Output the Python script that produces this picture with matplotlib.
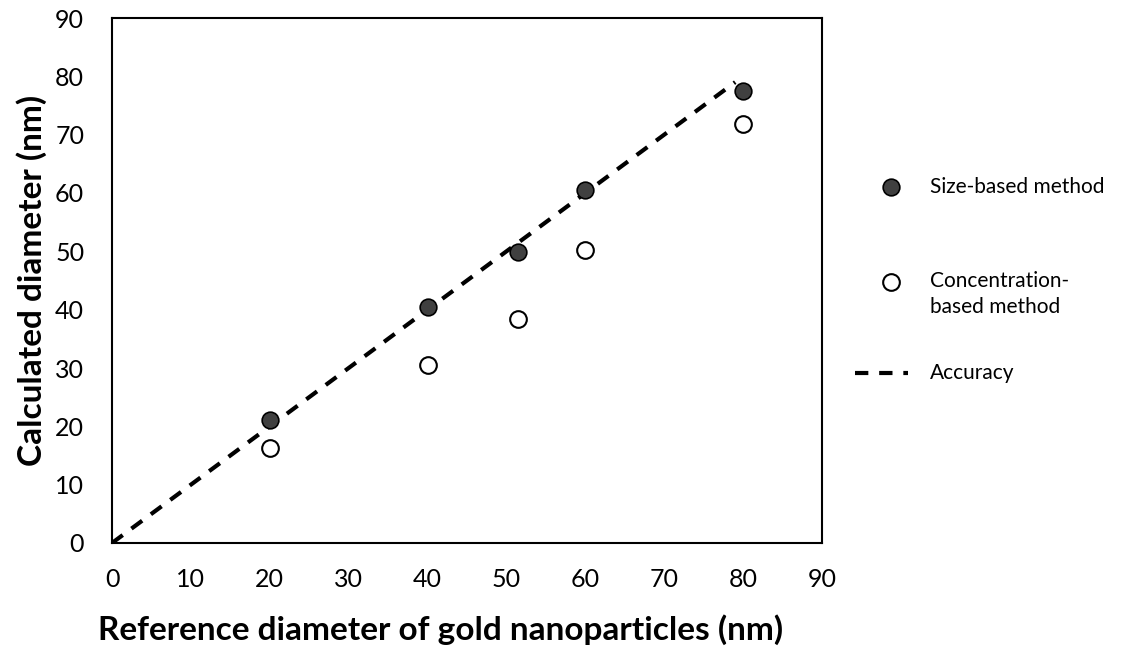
import matplotlib
matplotlib.use("Agg")
import matplotlib.pyplot as plt
from matplotlib.lines import Line2D

plt.rcParams['font.family'] = ['Lato', 'DejaVu Sans']

ref_size = [20, 40, 51.5, 60, 80]
size_based = [21.1, 40.5, 49.9, 60.5, 77.5]
ref_conc = [20, 40, 51.5, 60, 80]
conc_based = [16.3, 30.5, 38.4, 50.3, 71.9]
acc_x = [0, 79]
acc_y = [0, 79]
ticks = [0, 10, 20, 30, 40, 50, 60, 70, 80, 90]
legend_labels = ['Size-based method', 'Concentration-\nbased method', 'Accuracy']

W, H = 1139, 656
fig = plt.figure(figsize=(W / 100, H / 100), dpi=100)
ax = fig.add_axes([112 / W, 1 - 543 / H, 710 / W, 525 / H])

dash = (0, (3.2, 2.6))
ax.plot(acc_x, acc_y, linestyle=dash, color='black', linewidth=3, zorder=2)
size_style = dict(marker='o', markersize=12, markerfacecolor='#404040', markeredgecolor='black', markeredgewidth=1.2)
conc_style = dict(marker='o', markersize=12, markerfacecolor='white', markeredgecolor='black', markeredgewidth=1.5)
ax.plot(ref_size, size_based, linestyle='none', zorder=3, **size_style)
ax.plot(ref_conc, conc_based, linestyle='none', zorder=3, **conc_style)

ax.set_xlim(0, 90)
ax.set_ylim(0, 90)
ax.set_xticks(ticks)
ax.set_yticks(ticks)
ax.tick_params(axis='y', length=0, labelsize=18, pad=20)
ax.tick_params(axis='x', length=0, labelsize=18, pad=18)
for s in ax.spines.values():
    s.set_linewidth(1.5)
    s.set_color('black')

ax.set_xlabel('Reference diameter of gold nanoparticles (nm)', fontsize=24, fontweight='bold', labelpad=17)
ax.xaxis.label.set_x((441 - 112) / 710)
ax.set_ylabel('Calculated diameter (nm)', fontsize=24, fontweight='bold', labelpad=6)

# manual legend (Excel-style, right of the plot)
def fx(px):
    return px / W

def fy(py):
    return 1 - py / H

fig.add_artist(Line2D([fx(891)], [fy(187)], linestyle='none', transform=fig.transFigure, **size_style))
fig.text(fx(930), fy(187), legend_labels[0], fontsize=15, va='center', ha='left')
fig.add_artist(Line2D([fx(891)], [fy(282)], linestyle='none', transform=fig.transFigure, **conc_style))
fig.text(fx(930), fy(271), legend_labels[1], fontsize=15, va='top', ha='left', linespacing=1.35)
fig.add_artist(Line2D([fx(855), fx(908)], [fy(373), fy(373)], linestyle=dash, color='black',
                      linewidth=3, transform=fig.transFigure))
fig.text(fx(930), fy(373), legend_labels[2], fontsize=15, va='center', ha='left')

fig.savefig('out.png', dpi=100)
